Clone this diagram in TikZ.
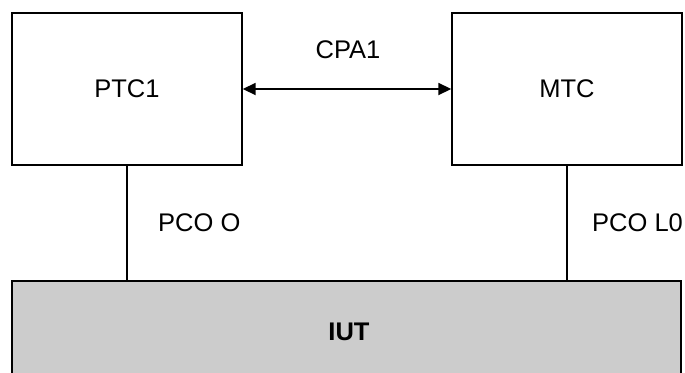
\documentclass[tikz,border=0pt]{standalone}
\usepackage{fontspec}
\setmainfont{Liberation Sans}
\usetikzlibrary{arrows.meta}
\begin{document}
\begin{tikzpicture}[x=1pt,y=-1pt,
  txt/.style={font=\fontsize{25.5}{30}\selectfont},
  box/.style={txt, draw=black, line width=1.4pt, minimum width=230pt, minimum height=152pt, inner sep=0pt},
  base/.style={draw=black, fill=black!20, line width=1.4pt, minimum width=669pt, minimum height=100pt, inner sep=0pt},
  lbl/.style={txt, inner sep=0pt},
  link/.style={line width=1.4pt},
  dbl/.style={line width=1.8pt, {Triangle[length=13pt,width=12pt]}-{Triangle[length=13pt,width=12pt]}}]
\useasboundingbox (0,0) rectangle (685,372);
\clip (0,0) rectangle (685,372);
\node[box] (ptc) at (127,89) {PTC1};
\node[box] (mtc) at (567,89) {MTC};
\node[base] (iut) at (346.5,331) {};
\node[lbl, font=\bfseries\fontsize{25.5}{30}\selectfont] (iutl) at (349,332) {IUT};
\draw[dbl] (ptc.east) -- (mtc.west);
\node[lbl] (cpa) at (348,50) {CPA1};
\draw[link] (ptc.south) -- (ptc.south |- iut.north);
\draw[link] (mtc.south) -- (mtc.south |- iut.north);
\node[lbl, anchor=west] (pcoo) at (158,223) {PCO O};
\node[lbl, anchor=west] (pcol) at (592,223) {PCO L0};
\end{tikzpicture}
\end{document}
